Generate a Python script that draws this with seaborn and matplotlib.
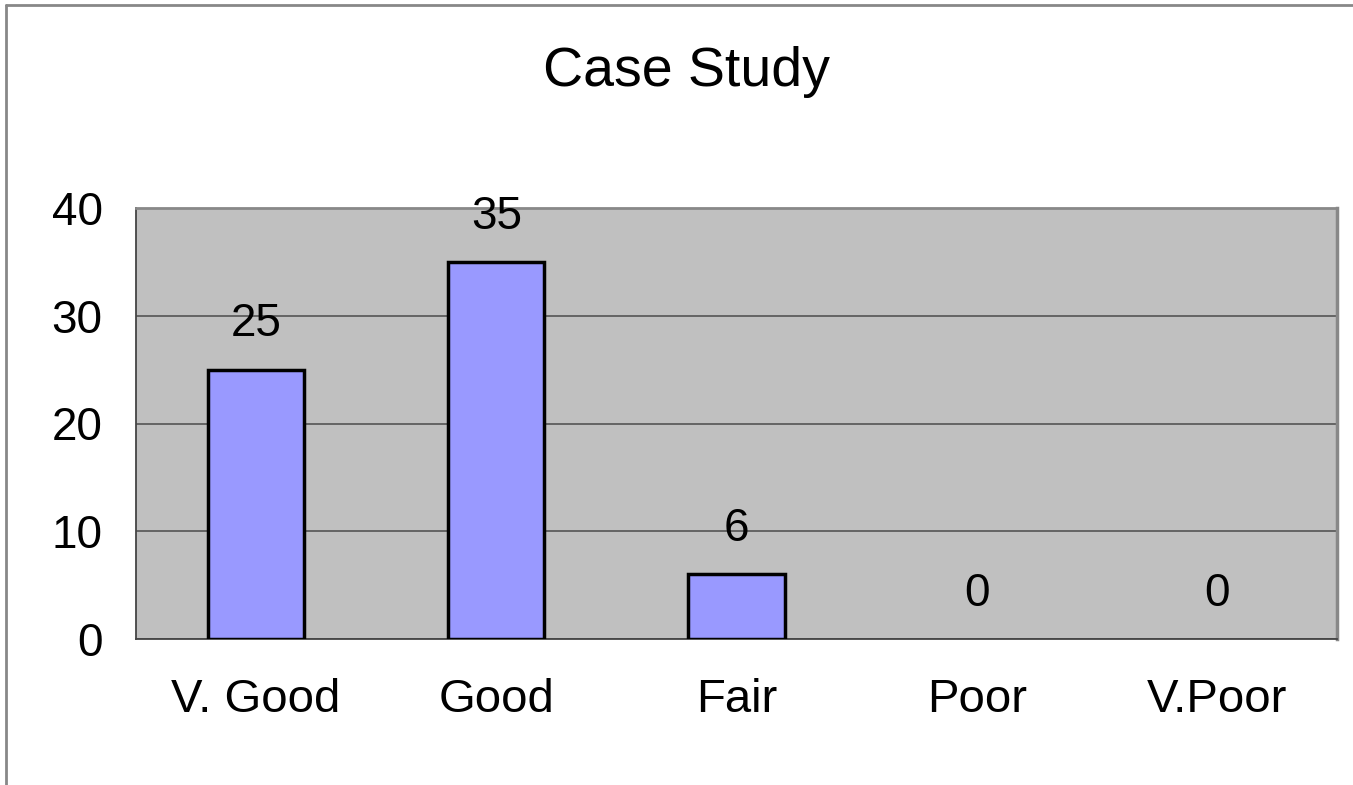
import pandas as pd
import numpy as np
import matplotlib
matplotlib.use("Agg")
import matplotlib.pyplot as plt
import seaborn as sns
from matplotlib.lines import Line2D

categories = ["V. Good", "Good", "Fair", "Poor", "V.Poor"]
counts = [25, 35, 6, 0, 0]
y_ticks = [0, 10, 20, 30, 40]

df = pd.DataFrame({"Rating": categories, "Count": counts})

sns.set_style("white")
plt.rcParams['font.family'] = ['Liberation Sans', 'DejaVu Sans']

fig = plt.figure(figsize=(13.53, 7.85), dpi=100)
ax = fig.add_axes([136/1353, 1 - 639/785, (1337 - 136)/1353, (639 - 208)/785])
ax.set_facecolor("#C0C0C0")

sns.barplot(data=df, x="Rating", y="Count", color="#9999FF", saturation=1,
            edgecolor="black", linewidth=2.5, width=0.4, ax=ax, zorder=3)

# zero-height bars are not drawn at all
for p in ax.patches:
    if p.get_height() == 0:
        p.set_linewidth(0)

ax.set_ylim(0, 40)
ax.set_xlim(-0.5, len(categories) - 0.5)
ax.set_yticks(y_ticks)
ax.yaxis.grid(True, color="#555555", linewidth=1.2, zorder=0)
ax.set_axisbelow(True)

# value labels above bars
for i, v in enumerate(counts):
    ax.annotate(str(v), (i, v), xytext=(0, 24), textcoords="offset points",
                ha="center", va="baseline", fontsize=33, color="black")

# category boundaries as ticks
ax.set_xticks(np.arange(-0.5, len(categories)), minor=True)
ax.tick_params(axis="x", which="minor", length=10, width=1, color="#555555", direction="out")
ax.tick_params(axis="x", which="major", length=0, pad=28, labelsize=34, labelcolor="black")
ax.tick_params(axis="y", length=10, width=1, color="#555555", direction="out", pad=14,
               labelsize=33, labelcolor="black")

ax.set_xlabel("")
ax.set_ylabel("")

for side in ["left", "bottom"]:
    ax.spines[side].set_color("#444444")
    ax.spines[side].set_linewidth(1.3)
ax.spines["top"].set_color("#888888")
ax.spines["top"].set_linewidth(2)
ax.spines["right"].set_color("#888888")
ax.spines["right"].set_linewidth(2.5)

fig.text(686/1353, 1 - 72/785, "Case Study", ha="center", va="center", fontsize=40, color="black")

# outer chart frame (left and top edges)
fig.add_artist(Line2D([6/1353, 6/1353], [0, 1 - 5/785], transform=fig.transFigure,
                      color="#888888", linewidth=2))
fig.add_artist(Line2D([6/1353, 1], [1 - 5/785, 1 - 5/785], transform=fig.transFigure,
                      color="#888888", linewidth=2))

fig.savefig("out.png", dpi=100)
